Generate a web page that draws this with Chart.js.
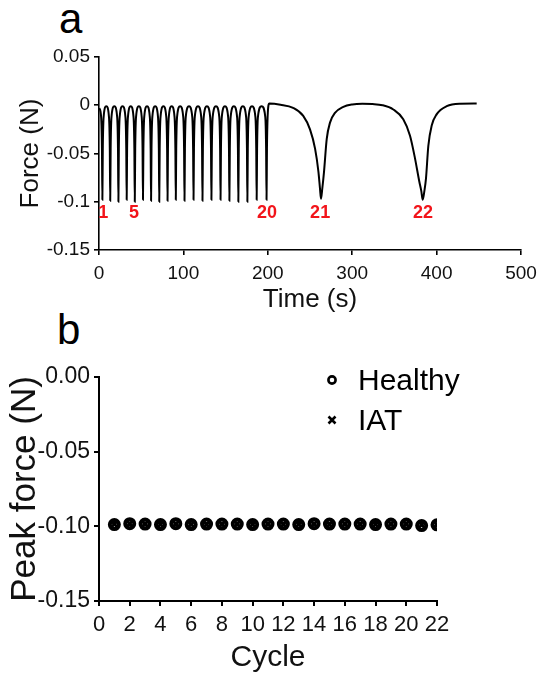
<!DOCTYPE html>
<html>
<head>
<meta charset="utf-8">
<script src="https://cdn.jsdelivr.net/npm/chart.js@4.4.1/dist/chart.umd.min.js"></script>
<style>
  body { margin: 0; background: #fff; }
  #wrap { position: relative; width: 546px; height: 685px; font-family: 'Liberation Sans', Arial, sans-serif; color: #000; }
  canvas { position: absolute; left: 0; }
  .panel { position: absolute; font-size: 42px; line-height: 42px; }
  .leg { position: absolute; font-size: 30px; line-height: 30px; }
</style>
</head>
<body>
<div id="wrap">
  <div class="panel" style="left:59px; top:-2px;">a</div>
  <div class="panel" style="left:57px; top:309px;">b</div>
  <canvas id="forceChart" width="546" height="325" style="top:0;"></canvas>
  <canvas id="peakChart" width="546" height="360" style="top:325px;"></canvas>
  <div class="leg" style="left:358px; top:365px;">Healthy</div>
  <div class="leg" style="left:358px; top:405px;">IAT</div>
  <svg style="position:absolute; left:324px; top:372px;" width="16" height="16"><circle cx="8" cy="8" r="3.6" fill="#fff" stroke="#000" stroke-width="2.6"/></svg>
  <svg style="position:absolute; left:324px; top:412px;" width="16" height="16"><path d="M4.5 4.5 L11.5 11.5 M11.5 4.5 L4.5 11.5" stroke="#000" stroke-width="2.6"/></svg>
</div>
<script>
'use strict';
// panel a: force trace
const forceTime = [
  0.3, 2.5, 3.5, 4.0,
  4.5, 5.5, 8.65, 11.8, 12.8, 13.3,
  13.8, 14.8, 18.15, 21.5, 22.5, 23.0,
  23.5, 24.5, 27.9, 31.3, 32.3, 32.8,
  33.3, 34.3, 37.6, 40.9, 41.9, 42.4,
  42.9, 43.9, 47.25, 50.6, 51.6, 52.1,
  52.6, 53.6, 56.9, 60.2, 61.2, 61.7,
  62.2, 63.2, 66.55, 69.9, 70.9, 71.4,
  71.9, 72.9, 76.3, 79.7, 80.7, 81.2,
  81.7, 82.7, 86.1, 89.5, 90.5, 91.0,
  91.5, 92.5, 96.15, 99.8, 100.8, 101.3,
  101.8, 102.8, 106.65, 110.5, 111.5, 112.0,
  112.5, 113.5, 117.3, 121.1, 122.1, 122.6,
  123.1, 124.1, 127.9, 131.7, 132.7, 133.2,
  133.7, 134.7, 138.6, 142.5, 143.5, 144.0,
  144.5, 145.5, 149.25, 153.0, 154.0, 154.5,
  155.0, 156.0, 159.8, 163.6, 164.6, 165.1,
  165.6, 166.6, 170.45, 174.3, 175.3, 175.8,
  176.3, 177.3, 181.3, 185.3, 186.3, 186.8,
  187.3, 188.3, 192.65, 197.0, 198.0, 198.5,
  199.0, 200.0, 201.8, 215, 230, 242, 250, 256, 260, 261.8, 263,
  264.6, 266.6, 269.8, 273.7, 279.6, 289.5, 300, 312, 324, 336,
  348.7, 360.5, 368.5, 374.4, 379.5, 381.9, 383.5, 385.5, 387.4, 390.2,
  394.2, 400, 412, 427.7, 447.5
];
const forceValue = [
  -0.003, -0.012, -0.045, -0.098,
  -0.045, -0.012, -0.001, -0.012, -0.045, -0.099,
  -0.045, -0.012, -0.001, -0.012, -0.045, -0.100,
  -0.045, -0.012, -0.001, -0.012, -0.045, -0.098,
  -0.045, -0.012, -0.001, -0.012, -0.045, -0.100,
  -0.045, -0.012, -0.001, -0.012, -0.045, -0.098,
  -0.045, -0.012, -0.001, -0.012, -0.045, -0.099,
  -0.045, -0.012, -0.001, -0.012, -0.045, -0.100,
  -0.045, -0.012, -0.001, -0.012, -0.045, -0.099,
  -0.045, -0.012, -0.001, -0.012, -0.045, -0.098,
  -0.045, -0.012, -0.001, -0.012, -0.045, -0.099,
  -0.045, -0.012, -0.001, -0.012, -0.045, -0.098,
  -0.045, -0.012, -0.001, -0.012, -0.045, -0.099,
  -0.045, -0.012, -0.001, -0.012, -0.045, -0.098,
  -0.045, -0.012, -0.001, -0.012, -0.045, -0.098,
  -0.045, -0.012, -0.001, -0.012, -0.045, -0.099,
  -0.045, -0.012, -0.001, -0.012, -0.045, -0.100,
  -0.045, -0.012, -0.001, -0.012, -0.045, -0.100,
  -0.045, -0.012, -0.001, -0.012, -0.045, -0.098,
  -0.045, -0.012, -0.001, -0.012, -0.045, -0.098,
  -0.045, -0.008, 0.0017, 0.0005, -0.0027, -0.011, -0.025, -0.045, -0.069, -0.086, -0.097,
  -0.086, -0.069, -0.035, -0.018, -0.008, -0.0017, 0.0008, 0.0015, 0.0012, 0.0,
  -0.0044, -0.0146, -0.0316, -0.055, -0.079, -0.089, -0.098, -0.089, -0.076, -0.042,
  -0.021, -0.0095, -0.001, 0.0015, 0.0017
];
const cycleLabelText = ['1', '5', '20', '21', '22'];
const cycleLabelTime = [5, 41.5, 199, 262, 384];
const cycleLabelForce = -0.1115;
const forceXTicks = [0, 100, 200, 300, 400, 500];
const forceYTicks = [-0.15, -0.1, -0.05, 0, 0.05];
const forceYTickLabels = ['-0.15', '-0.1', '-0.05', '0', '0.05'];

// panel b: peak force per cycle
const cycles = [1, 2, 3, 4, 5, 6, 7, 8, 9, 10, 11, 12, 13, 14, 15, 16, 17, 18, 19, 20, 21, 22];
const healthyPeak = [-0.0988, -0.0982, -0.0985, -0.0988, -0.0982, -0.0988, -0.0985, -0.0985, -0.0985, -0.0988, -0.0985,
                     -0.0985, -0.0988, -0.0982, -0.0985, -0.0985, -0.0985, -0.0988, -0.0985, -0.0985, -0.0995, -0.0990];
const iatPeak = [-0.0985, -0.0983, -0.0984, -0.0986, -0.0984, -0.0987, -0.0986, -0.0986, -0.0984, -0.0986, -0.0984,
                 -0.0986, -0.0986, -0.0984, -0.0986, -0.0984, -0.0986, -0.0986, -0.0984, -0.0984, -0.0990, -0.0988];
const peakXTicks = [0, 2, 4, 6, 8, 10, 12, 14, 16, 18, 20, 22];
const peakYTicks = [-0.15, -0.1, -0.05, 0];
const peakYTickLabels = ['-0.15', '-0.10', '-0.05', '0.00'];

const FONT = "'Liberation Sans', Arial, sans-serif";

const cycleLabels = {
    id: 'cycleLabels',
    afterDatasetsDraw(chart) {
        const { ctx, scales: { x, y } } = chart;
        ctx.save();
        ctx.fillStyle = '#f2141a';
        ctx.font = 'bold 18px ' + FONT;
        ctx.textAlign = 'center';
        ctx.textBaseline = 'middle';
        cycleLabelText.forEach((txt, i) => {
            ctx.fillText(txt, x.getPixelForValue(cycleLabelTime[i]), y.getPixelForValue(cycleLabelForce));
        });
        ctx.restore();
    }
};

const axisStyle = (lw) => ({
    grid: { drawOnChartArea: false, drawTicks: true, tickLength: 5, color: '#000', lineWidth: lw },
    border: { display: true, color: '#000', width: lw }
});

// chart a
new Chart(document.getElementById('forceChart').getContext('2d'), {
    type: 'line',
    data: {
        datasets: [{
            data: forceTime.map((t, i) => ({ x: t, y: forceValue[i] })),
            borderColor: '#000',
            borderWidth: 2,
            pointRadius: 0,
            cubicInterpolationMode: 'monotone',
            fill: false
        }]
    },
    options: {
        responsive: false,
        animation: false,
        layout: { padding: { top: 57, right: 25, bottom: 0, left: 0 } },
        plugins: { legend: { display: false }, tooltip: { enabled: false } },
        scales: {
            x: {
                type: 'linear', min: 0, max: 500,
                ...axisStyle(1.6),
                afterBuildTicks: s => { s.ticks = forceXTicks.map(v => ({ value: v })); },
                afterFit: s => { s.height = 75; },
                ticks: { color: '#111', font: { family: FONT, size: 19 }, padding: 7, maxRotation: 0, autoSkip: false },
                title: { display: true, text: 'Time (s)', color: '#111', font: { family: FONT, size: 26 }, padding: { top: 0, bottom: 10 } }
            },
            y: {
                type: 'linear', min: -0.15, max: 0.05,
                ...axisStyle(1.6),
                afterBuildTicks: s => { s.ticks = forceYTicks.map(v => ({ value: v })); },
                afterFit: s => { s.width = 99; },
                ticks: {
                    color: '#111', font: { family: FONT, size: 19 }, padding: 4,
                    callback: (v, i) => forceYTickLabels[i]
                },
                title: { display: true, text: 'Force (N)', color: '#111', font: { family: FONT, size: 26 }, padding: { top: 15, bottom: 0 } }
            }
        }
    },
    plugins: [cycleLabels]
});

// chart b
new Chart(document.getElementById('peakChart').getContext('2d'), {
    type: 'scatter',
    data: {
        datasets: [{
            label: 'IAT',
            data: cycles.map((c, i) => ({ x: c, y: iatPeak[i] })),
            pointStyle: 'crossRot',
            pointRadius: 5.5,
            borderWidth: 3,
            borderColor: '#000',
            order: 0
        }, {
            label: 'Healthy',
            data: cycles.map((c, i) => ({ x: c, y: healthyPeak[i] })),
            pointStyle: 'circle',
            pointRadius: 4.5,
            borderWidth: 4,
            borderColor: '#000',
            backgroundColor: '#fff',
            order: 1
        }]
    },
    options: {
        responsive: false,
        animation: false,
        layout: { padding: { top: 52, right: 109, bottom: 0, left: 0 } },
        plugins: { legend: { display: false }, tooltip: { enabled: false } },
        scales: {
            x: {
                type: 'linear', min: 0, max: 22,
                ...axisStyle(2),
                afterBuildTicks: s => { s.ticks = peakXTicks.map(v => ({ value: v })); },
                afterFit: s => { s.height = 84; },
                ticks: { color: '#111', font: { family: FONT, size: 22 }, padding: 6, maxRotation: 0, autoSkip: false },
                title: { display: true, text: 'Cycle', color: '#111', font: { family: FONT, size: 30 }, padding: { top: 0, bottom: 9 } }
            },
            y: {
                type: 'linear', min: -0.15, max: 0,
                ...axisStyle(2),
                afterBuildTicks: s => { s.ticks = peakYTicks.map(v => ({ value: v })); },
                afterFit: s => { s.width = 99; },
                ticks: {
                    color: '#111', font: { family: FONT, size: 23 }, padding: 4,
                    callback: (v, i) => peakYTickLabels[i]
                },
                title: { display: true, text: 'Peak force (N)', color: '#111', font: { family: FONT, size: 35 }, padding: { top: 4, bottom: 0 } }
            }
        }
    }
});
</script>
</body>
</html>
